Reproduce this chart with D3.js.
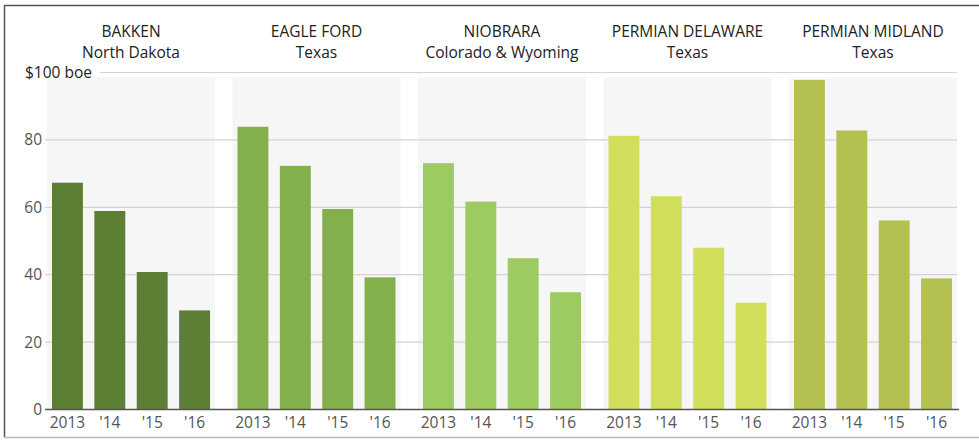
<!DOCTYPE html>
<html>
<head>
<meta charset="utf-8">
<script src="https://cdn.jsdelivr.net/npm/d3@7"></script>
<style>
  body { margin: 0; background: #fff; }
  text { font-family: "Open Sans", sans-serif; }
</style>
</head>
<body>
<div id="graph"></div>
<script>
// regions, with their state line and colour
var regions = ["BAKKEN", "EAGLE FORD", "NIOBRARA", "PERMIAN DELAWARE", "PERMIAN MIDLAND"];
var states = ["North Dakota", "Texas", "Colorado & Wyoming", "Texas", "Texas"];
var colors = ["#5c7e35", "#84af4d", "#9ecb61", "#d2df5d", "#b4c150"];

// years on the x axis
var years = ["2013", "'14", "'15", "'16"];

// breakeven cost, $ per boe, one array per region
var bakken = [67.3, 58.9, 40.8, 29.4];
var eagleFord = [83.9, 72.3, 59.5, 39.2];
var niobrara = [73.1, 61.7, 44.9, 34.8];
var permianDelaware = [81.2, 63.3, 48.0, 31.7];
var permianMidland = [97.8, 82.8, 56.1, 38.9];
var values = [bakken, eagleFord, niobrara, permianDelaware, permianMidland];

var yTicks = [0, 20, 40, 60, 80, 100];

var width = 979, height = 440;

var svg = d3.select("#graph").append("svg")
  .attr("width", width).attr("height", height);

// frame
svg.append("line").attr("x1", 4.5).attr("x2", 4.5).attr("y1", 5).attr("y2", 437)
  .attr("stroke", "#555").attr("stroke-width", 1.5);
svg.append("line").attr("x1", 4).attr("x2", width).attr("y1", 5.5).attr("y2", 5.5)
  .attr("stroke", "#555").attr("stroke-width", 1.5);
svg.append("line").attr("x1", 4).attr("x2", width).attr("y1", 437.5).attr("y2", 437.5)
  .attr("stroke", "#bbb").attr("stroke-width", 1.5);

// scales
var x0 = d3.scaleBand().domain(regions).range([52, 952]).paddingInner(0.148).paddingOuter(0);
var x1 = d3.scaleBand().domain(years).range([0, x0.bandwidth()]).paddingInner(0.27);
var y = d3.scaleLinear().domain([0, 100]).range([409.5, 72.5]);

// light background band behind each region
svg.selectAll(".band")
  .data(regions)
  .enter().append("rect")
    .attr("class", "band")
    .attr("x", function(d) { return x0(d) - 5; })
    .attr("y", y(100) + 5)
    .attr("width", x0.bandwidth() + 10)
    .attr("height", y(0) - y(100) - 5)
    .attr("fill", "#f6f6f6");

// gridlines
svg.selectAll(".grid")
  .data(yTicks.slice(1))
  .enter().append("line")
    .attr("class", "grid")
    .attr("x1", function(d) { return d == 100 ? 100 : 45; })
    .attr("x2", 957)
    .attr("y1", function(d) { return y(d); })
    .attr("y2", function(d) { return y(d); })
    .attr("stroke", "#d2d2d8")
    .attr("stroke-width", 1.2);

// tick labels
svg.selectAll(".ytick")
  .data(yTicks)
  .enter().append("text")
    .attr("class", "ytick")
    .attr("x", function(d) { return d == 100 ? 25 : 42; })
    .attr("y", function(d) { return y(d) + 5.5; })
    .attr("text-anchor", function(d) { return d == 100 ? "start" : "end"; })
    .attr("font-size", 15.5)
    .attr("fill", function(d) { return d == 100 ? "#222" : "#555"; })
    .text(function(d) { return d == 100 ? "$100 boe" : d; });

// bars
var group = svg.selectAll(".region")
  .data(regions)
  .enter().append("g")
    .attr("class", "region")
    .attr("transform", function(d) { return "translate(" + x0(d) + ",0)"; });

group.selectAll("rect")
  .data(function(d, i) {
    return years.map(function(yr, j) { return {year: yr, value: values[i][j], color: colors[i]}; });
  })
  .enter().append("rect")
    .attr("x", function(d) { return x1(d.year); })
    .attr("y", function(d) { return y(d.value); })
    .attr("width", x1.bandwidth())
    .attr("height", function(d) { return y(0) - y(d.value); })
    .attr("fill", function(d) { return d.color; });

// year labels
group.selectAll(".year")
  .data(years)
  .enter().append("text")
    .attr("class", "year")
    .attr("x", function(d) { return x1(d) + x1.bandwidth() / 2; })
    .attr("y", 428)
    .attr("text-anchor", "middle")
    .attr("font-size", 15.5)
    .attr("fill", "#555")
    .text(function(d) { return d; });

// region titles
group.append("text")
  .attr("x", x0.bandwidth() / 2)
  .attr("y", 37)
  .attr("text-anchor", "middle")
  .attr("font-size", 15.5)
  .attr("fill", "#222")
  .text(function(d) { return d; });

group.append("text")
  .attr("x", x0.bandwidth() / 2)
  .attr("y", 58)
  .attr("text-anchor", "middle")
  .attr("font-size", 15.5)
  .attr("fill", "#222")
  .text(function(d, i) { return states[i]; });

// baseline
svg.append("line")
  .attr("x1", 45).attr("x2", 959)
  .attr("y1", y(0)).attr("y2", y(0))
  .attr("stroke", "#555").attr("stroke-width", 1.5);
</script>
</body>
</html>
